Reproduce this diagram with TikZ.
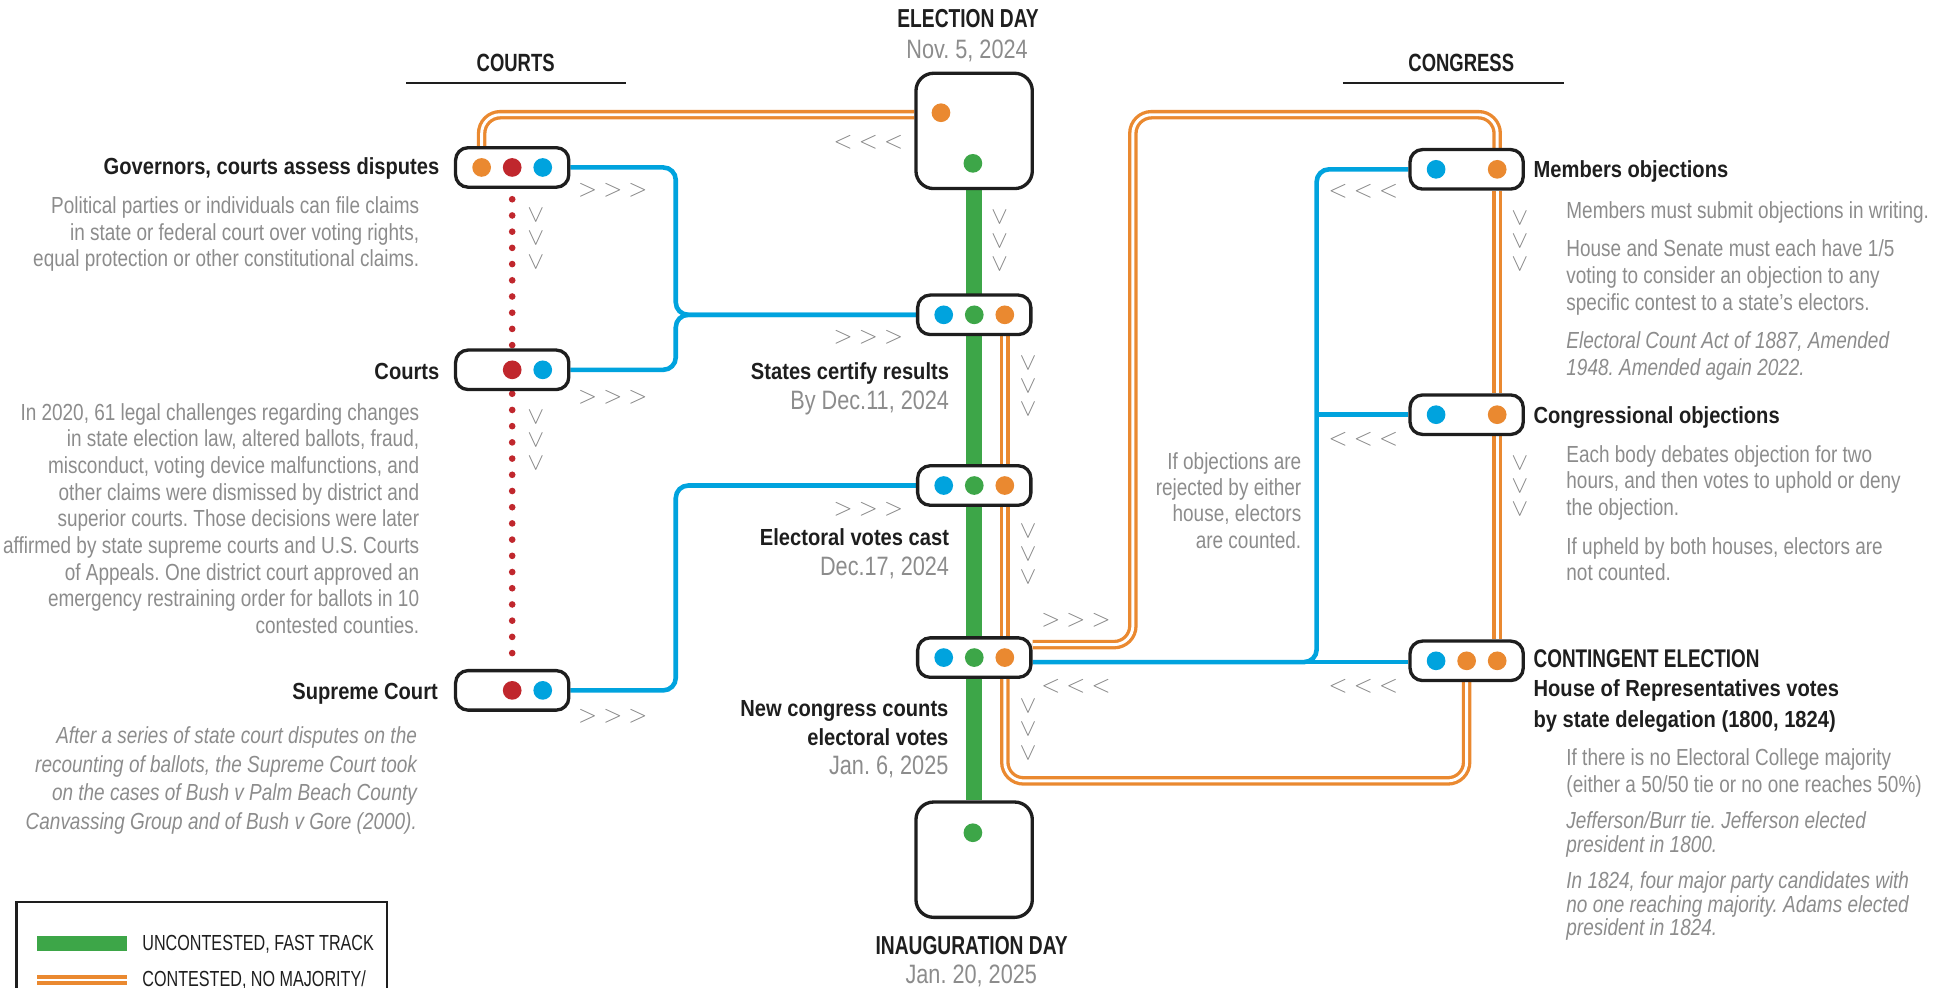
\documentclass[tikz,border=0pt]{standalone}
\usepackage{fontspec}
\setmainfont{Liberation Sans}[FakeStretch=0.815]
\newfontfamily\headf{Liberation Sans}[FakeStretch=0.865]
\newfontfamily\capsf{Liberation Sans}[FakeStretch=0.74]
\usepackage{xcolor}
\usepackage{tikz}
\usetikzlibrary{calc,backgrounds}
\frenchspacing
\definecolor{grn}{HTML}{3DA648}
\definecolor{orn}{HTML}{EA8930}
\definecolor{blu}{HTML}{00A3DE}
\definecolor{rdd}{HTML}{C0272D}
\definecolor{txt}{HTML}{8C8C8C}
\definecolor{ink}{HTML}{1E1E1E}
\definecolor{chv}{HTML}{858585}
\newcommand{\fwd}{$>\mkern4.5mu>\mkern4.5mu>$}
\newcommand{\bwd}{$<\mkern4.5mu<\mkern4.5mu<$}
\newcommand{\dwn}{$>\mkern3mu>\mkern3mu>$}
\tikzset{
  station/.style={draw=ink, line width=1.6pt, fill=white, rounded corners=6pt, minimum width=54.5pt, minimum height=19pt, inner sep=0pt},
  terminus/.style={station, rounded corners=8.5pt, minimum width=56pt, minimum height=55.5pt},
  fasttrack/.style={draw=grn, line width=7.5pt},
  contest/.style={draw=orn, line width=1.6pt, double=white, double distance=1.4pt, rounded corners=9pt},
  vote/.style={draw=blu, line width=2.2pt, rounded corners=6pt},
  courtline/.style={draw=rdd, line width=3.2pt, line cap=round, dash pattern=on 0pt off 7.8pt, shorten <=5pt},
  note/.style={text=txt, inner sep=0pt, font=\fontsize{11.2pt}{#1}\selectfont},
  note/.default=12.84pt,
  notei/.style={text=txt, inner sep=0pt, font=\fontsize{11.2pt}{#1}\selectfont\itshape},
  notei/.default=12.8pt,
  lbl/.style={text=ink, inner sep=0pt, font=\headf\bfseries\fontsize{11.2pt}{13.4pt}\selectfont},
  daytext/.style={text=txt, inner sep=0pt, font=\fontsize{12.8pt}{15pt}\selectfont},
  ttl/.style={text=ink, inner sep=0pt, font=\capsf\bfseries\fontsize{12.5pt}{15pt}\selectfont},
  chev/.style={text=chv, inner sep=0pt, font=\fontsize{12pt}{14pt}\selectfont},
  headrule/.style={draw=ink, line width=1pt},
  legtext/.style={text=ink, inner sep=0pt, font=\capsf\fontsize{10.5pt}{12pt}\selectfont}
}
\begin{document}
\begin{tikzpicture}[x=0.6pt, y=-0.6pt]
  \useasboundingbox (0,0) rectangle (1568,792);
  % Headings
  \node[ttl, anchor=base] (eday-t) at (776.4,22.4) {ELECTION DAY};
  \node[daytext, anchor=base] (eday-d) at (775.6,46.9) {Nov. 5, 2024};
  \node[ttl, font=\capsf\bfseries\fontsize{12pt}{14pt}\selectfont, anchor=base] (courts-t) at (413.6,57.7) {COURTS};
  \node[ttl, font=\capsf\bfseries\fontsize{12pt}{14pt}\selectfont, anchor=base] (congress-t) at (1172,57.7) {CONGRESS};
  \draw[headrule] ($(courts-t.base)+(-87.6,8.6)$) -- ++(176.3,0);
  \draw[headrule] ($(congress-t.base)+(-95,8.6)$) -- ++(177,0);
  \node[ttl, anchor=base] (inaug-t) at (779.3,765.2) {INAUGURATION DAY};
  \node[daytext, anchor=base] (inaug-d) at (779,788.5) {Jan. 20, 2025};

  % Stations
  \node[terminus] (eday) at (781.3,105) {};
  \node[station] (sc) at (781.4,252.5) {};
  \node[station] (ev) at (781.4,389.4) {};
  \node[station] (nc) at (781.4,527.4) {};
  \node[terminus] (inaug) at (781.3,689.5) {};
  \node[station] (gov) at (410.8,134.3) {};
  \node[station] (crt) at (410.8,296.6) {};
  \node[station] (sup) at (410.8,553.7) {};
  \node[station] (mem) at (1176.3,135.8) {};
  \node[station] (cob) at (1176.3,332.6) {};
  \node[station] (cont) at (1176.3,530) {};

  % Dots in the stations
  \foreach \b/\dx/\c in {gov/-24.5/orn, gov/0/rdd, gov/24.5/blu, crt/0/rdd, crt/24.5/blu,
      sup/0/rdd, sup/24.5/blu, sc/-24.5/blu, sc/0/grn, sc/24.5/orn, ev/-24.5/blu, ev/0/grn,
      ev/24.5/orn, nc/-24.5/blu, nc/0/grn, nc/24.5/orn, mem/-24.5/blu, mem/24.5/orn,
      cob/-24.5/blu, cob/24.5/orn, cont/-24.5/blu, cont/0/orn, cont/24.5/orn}
    \fill[\c] ($(\b)+(\dx,0)$) circle[radius=4.5pt];
  \fill[orn] ($(eday)+(-26.6,-14.6)$) circle[radius=4.5pt];
  \fill[grn] ($(eday)+(-1,26)$) circle[radius=4.5pt];
  \fill[grn] ($(inaug)+(-1,-21.6)$) circle[radius=4.5pt];

  % Turning points
  \coordinate (gl) at (386.3,92);
  \coordinate (otl) at (908.6,92);
  \coordinate (otr) at (1200.8,92);
  \coordinate (obl) at (805.9,626.3);
  \coordinate (obr) at (1176.3,626.3);
  \coordinate (bl) at (542,252.5);
  \coordinate (br) at (1056,531);
  \coordinate (nco) at ([yshift=6.24pt]nc.east);

  % Tracks
  \begin{scope}[on background layer]
    \draw[fasttrack] (eday) -- (inaug);
    \draw[courtline] (gov) -- (sup);
    \draw[contest] (gov.north -| gl) -- (gl) -- (gl -| eday.west);
    \draw[contest] (sc.south -| obl) -- (ev.north -| obl);
    \draw[contest] (ev.south -| obl) -- (nc.north -| obl);
    \draw[contest] (nco) -- (nco -| otl) -- (otl) -- (otr) -- (mem.north -| otr);
    \draw[contest] (mem.south -| otr) -- (cob.north -| otr);
    \draw[contest] (cob.south -| otr) -- (cont.north -| otr);
    \draw[contest] (nc.south -| obl) -- (obl) -- (obr) -- (cont.south -| obr);
    \draw[vote] (gov.east) -- (gov.east -| bl) -- (bl) -- (sc.west);
    \draw[vote] (crt.east) -- (crt.east -| bl) -- (bl) -- (sc.west);
    \draw[vote] (sup.east) -- (sup.east -| bl) -- (bl |- ev.west) -- (ev.west);
    \draw[vote] (mem.west) -- (mem.west -| br) -- (br) -- (nc.east |- br);
    \draw[vote] (cob.west) -- (cob.west -| br);
    \draw[vote] (nc.east |- br) -- (cont.west |- br);
  \end{scope}

  % Direction marks
  \foreach \x/\y [count=\i] in {491.5/152.4, 491.5/319, 491.5/574.8, 696.5/270.5, 696.5/408.5, 863/497.3}
    \node[chev] (fw\i) at (\x,\y) {\fwd};
  \foreach \x/\y [count=\i] in {696.5/114, 1093.5/153.2, 1093.5/352, 1093.5/550.8, 863/550.2}
    \node[chev] (bw\i) at (\x,\y) {\bwd};
  \foreach \x/\y [count=\i] in {429.7/191.2, 429.7/352.9, 801.8/193, 824.5/309.3, 824.5/444.3,
      824.5/585, 1219/193.5, 1219/389.8}
    \node[chev, rotate=-90] (dn\i) at (\x,\y) {\dwn};

  % Courts
  \node[lbl, anchor=base east] (gov-l) at (352.7,140.1) {Governors, courts assess disputes};
  \node[note, align=right, anchor=north east] (gov-n) at (336.5,157.3) {Political parties or individuals can file claims\\in state or federal court over voting rights,\\equal protection or other constitutional claims.};
  \node[lbl, anchor=base east] (crt-l) at (352.7,304.4) {Courts};
  \node[note, align=right, anchor=north east] (crt-n) at (336.5,323.1) {In 2020, 61 legal challenges regarding changes\\in state election law, altered ballots, fraud,\\misconduct, voting device malfunctions, and\\other claims were dismissed by district and\\superior courts. Those decisions were later\\affirmed by state supreme courts and U.S. Courts\\of Appeals. One district court approved an\\emergency restraining order for ballots in 10\\contested counties.};
  \node[lbl, anchor=base east] (sup-l) at (351.5,561.2) {Supreme Court};
  \node[notei=13.8pt, align=right, anchor=north east] (sup-n) at (334.7,582.4) {After a series of state court disputes on the\\recounting of ballots, the Supreme Court took\\on the cases of Bush v Palm Beach County\\Canvassing Group and of Bush v Gore (2000).};

  % Timeline
  \node[lbl, anchor=base east] (sc-l) at (761.5,304) {States certify results};
  \node[daytext, anchor=base east] (sc-d) at (761.5,328.1) {By Dec.11, 2024};
  \node[lbl, anchor=base east] (ev-l) at (761.5,437.6) {Electoral votes cast};
  \node[daytext, anchor=base east] (ev-d) at (761.5,461.8) {Dec.17, 2024};
  \node[lbl, anchor=base east] (nc-l) at (761,574.5) {New congress counts};
  \node[lbl, anchor=base east] (nc-l2) at (761,597.8) {electoral votes};
  \node[daytext, anchor=base east] (nc-d) at (761,621.4) {Jan. 6, 2025};
  \node[note=12.66pt, align=right, anchor=north east] (obj-n) at (1044,362.6) {If objections are\\rejected by either\\house, electors\\are counted.};

  % Congress
  \node[lbl, anchor=base west] (mem-l) at (1229.7,142.4) {Members objections};
  \node[note, anchor=north west] (mem-n1) at (1256,161.3) {Members must submit objections in writing.};
  \node[note=12.9pt, align=left, anchor=north west] (mem-n2) at (1256,191.9) {House and Senate must each have 1/5\\voting to consider an objection to any\\specific contest to a state’s electors.};
  \node[notei=12.8pt, align=left, anchor=north west] (mem-n3) at (1256,265.6) {Electoral Count Act of 1887, Amended\\1948. Amended again 2022.};
  \node[lbl, anchor=base west] (cob-l) at (1229.7,339.3) {Congressional objections};
  \node[note=12.7pt, align=left, anchor=north west] (cob-n1) at (1256,357) {Each body debates objection for two\\hours, and then votes to uphold or deny\\the objection.};
  \node[note=12.5pt, align=left, anchor=north west] (cob-n2) at (1256,430.6) {If upheld by both houses, electors are\\not counted.};
  \node[ttl, font=\capsf\bfseries\fontsize{12.3pt}{15pt}\selectfont, anchor=base west] (cont-t) at (1229.7,535) {CONTINGENT ELECTION};
  \node[lbl, anchor=base west] (cont-l) at (1229.7,559) {House of Representatives votes};
  \node[lbl, anchor=base west] (cont-l2) at (1229.7,583.1) {by state delegation (1800, 1824)};
  \node[note=13.1pt, align=left, anchor=north west] (cont-n1) at (1256,599.8) {If there is no Electoral College majority\\(either a 50/50 tie or no one reaches 50\%)};
  \node[notei=11.7pt, align=left, anchor=north west] (cont-n2) at (1256,650.6) {Jefferson/Burr tie. Jefferson elected\\president in 1800.};
  \node[notei=11.4pt, align=left, anchor=north west] (cont-n3) at (1256,698.7) {In 1824, four major party candidates with\\no one reaching majority. Adams elected\\president in 1824.};

  % Legend
  \begin{scope}
    \clip (0,700) rectangle (400,792);
    \draw[ink, line width=1.3pt] (13.5,723.5) rectangle (310.4,860);
    \draw[fasttrack, line width=7.3pt] (29.7,756.7) -- (101.9,756.7);
    \node[legtext, anchor=base west] (lg-fast) at (113.9,762.6) {UNCONTESTED, FAST TRACK};
    \draw[contest] (29.7,786) -- (101.9,786);
    \node[legtext, anchor=base west] (lg-cont) at (113.9,791.5) {CONTESTED, NO MAJORITY/};
  \end{scope}
\end{tikzpicture}
\end{document}
